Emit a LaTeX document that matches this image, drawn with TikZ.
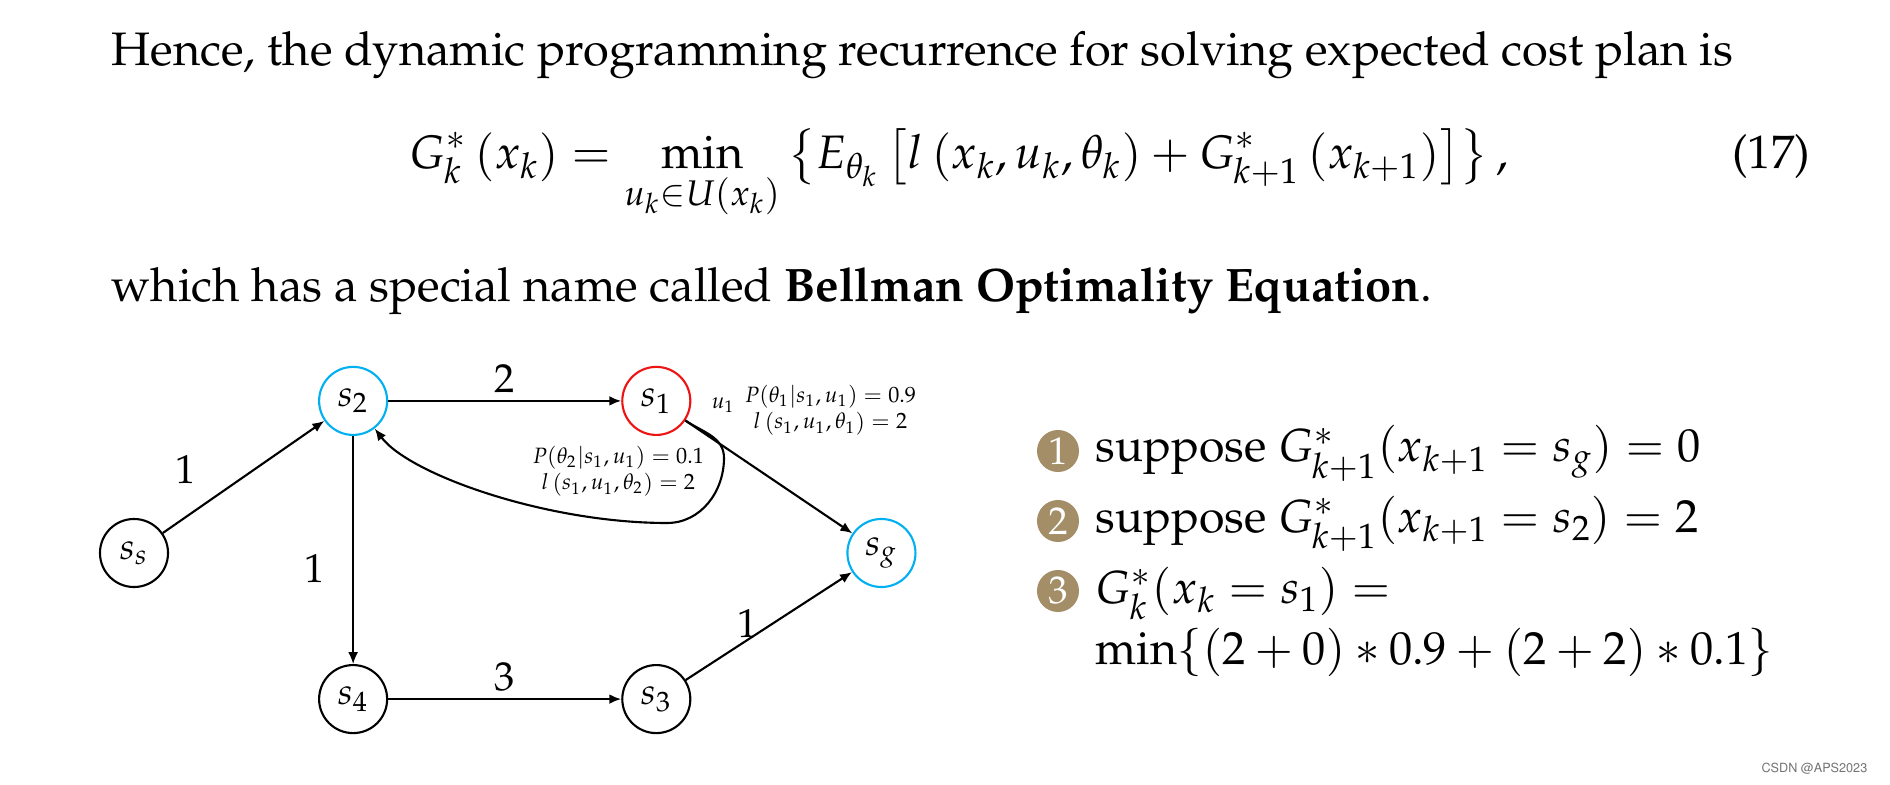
\documentclass[tikz,border=0pt]{standalone}
\usepackage[T1]{fontenc}
\usepackage{amsmath, amssymb}
\usepackage{mathpazo}
\usepackage{xcolor}
\usepackage{tikz}
\usetikzlibrary{arrows.meta, positioning, calc}
\definecolor{stateblue}{RGB}{0, 176, 240}
\definecolor{statered}{RGB}{238, 20, 20}
\definecolor{bullettan}{RGB}{163, 142, 103}

\begin{document}
\begin{tikzpicture}[
    x=0.01cm, y=-0.01cm, on grid,
    txt/.style={anchor=base west, inner sep=0pt, font=\fontsize{13.35}{16}\selectfont},
    state/.style={circle, draw, line width=0.6pt, minimum size=0.68cm, inner sep=0pt, font=\fontsize{10.5}{12}\selectfont},
    line/.style={line width=0.6pt, -{Latex[length=3.4pt, width=2.8pt]}},
    lbl/.style={font=\fontsize{11.5}{13}\selectfont, inner sep=2pt},
    prob/.style={font=\fontsize{6.3}{7.6}\selectfont, align=center, inner sep=0pt},
    bullet/.style={circle, fill=bullettan, text=white, minimum size=0.42cm, inner sep=0pt, font=\fontsize{11}{12}\selectfont},
    item/.style={anchor=base west, inner sep=0pt, font=\fontsize{13.2}{16}\selectfont},
    wmark/.style={anchor=base east, inner sep=0pt, text=black!55, font=\fontfamily{phv}\selectfont\fontsize{3.6}{4}\selectfont}
]
\useasboundingbox (0,0) rectangle (1890,785);

% text above the graph
\node[txt] (hence) at (111,66) {Hence, the dynamic programming recurrence for solving expected cost plan is};
\node[txt, anchor=base] (bellman) at (959,169) {$\displaystyle G_k^*\left(x_k\right) = \min_{u_k\in U(x_k)} \left\{E_{\theta_k}\left[l\left(x_k,u_k,\theta_k\right) + G_{k+1}^*\left(x_{k+1}\right)\right]\right\},$};
\node[txt, anchor=base east] (eqno) at (1811,169) {(17)};
\node[txt] (which) at (111,301) {which has a special name called \textbf{Bellman Optimality Equation}.};

% states
\node[state] (ss) at (134,553) {$s_s$};
\node[state, draw=stateblue, above right=1.52cm and 2.19cm of ss] (s2) {$s_2$};
\node[state, draw=statered, right=3.03cm of s2] (s1) {$s_1$};
\node[state, draw=stateblue, below right=1.52cm and 2.25cm of s1] (sg) {$s_g$};
\node[state, below=2.98cm of s2] (s4) {$s_4$};
\node[state, right=3.03cm of s4] (s3) {$s_3$};

\draw[line] (ss) -- node[lbl, pos=0.3, above left=3pt] {1} (s2);
\draw[line] (s2) -- node[lbl, above] {2} (s1);
\draw[line, line width=0.4pt] (s2) -- node[lbl, pos=0.58, left=6pt] {1} (s4);
\draw[line] (s4) -- node[lbl, above] {3} (s3);
\draw[line] (s3) -- node[lbl, pos=0.37, above=-1.5pt] {1} (sg);
\draw[line] (s1) -- (sg);

% stochastic return to s2
\coordinate (loopr) at (724,458);
\coordinate (loopb) at (667,523);
\draw[line] (s1.-34) to[out=-34, in=90] (loopr) to[out=-90, in=0] (loopb)
    .. controls (547,523) and (410,475) .. (s2.-52);

\node[prob, below right=0.04cm and 0.67cm of s1] (u1) {$u_1$};
\node[prob, below right=0.09cm and 1.74cm of s1] (p1) {$P(\theta_1|s_1,u_1) = 0.9$\\$l\left(s_1,u_1,\theta_1\right) = 2$};
\node[prob, below left=0.7cm and 0.38cm of s1] (p2) {$P(\theta_2|s_1,u_1) = 0.1$\\$l\left(s_1,u_1,\theta_2\right) = 2$};

% steps
\node[bullet] (b1) at (1058,451) {1};
\node[item] (step1) at (1095,462) {suppose $G^*_{k+1}(x_{k+1} = s_g) = 0$};
\node[bullet] (b2) at (1058,521) {2};
\node[item] (step2) at (1095,532) {suppose $G^*_{k+1}(x_{k+1} = s_2) = 2$};
\node[bullet] (b3) at (1058,591) {3};
\node[item] (step3) at (1095,603) {$G^*_{k}(x_{k} = s_1) =$};
\node[item] (step3b) at (1095,664) {$\min\{(2+0)*0.9+(2+2)*0.1\}$};

\node[wmark] (csdn) at (1868,772) {CSDN @APS2023};

\end{tikzpicture}
\end{document}
